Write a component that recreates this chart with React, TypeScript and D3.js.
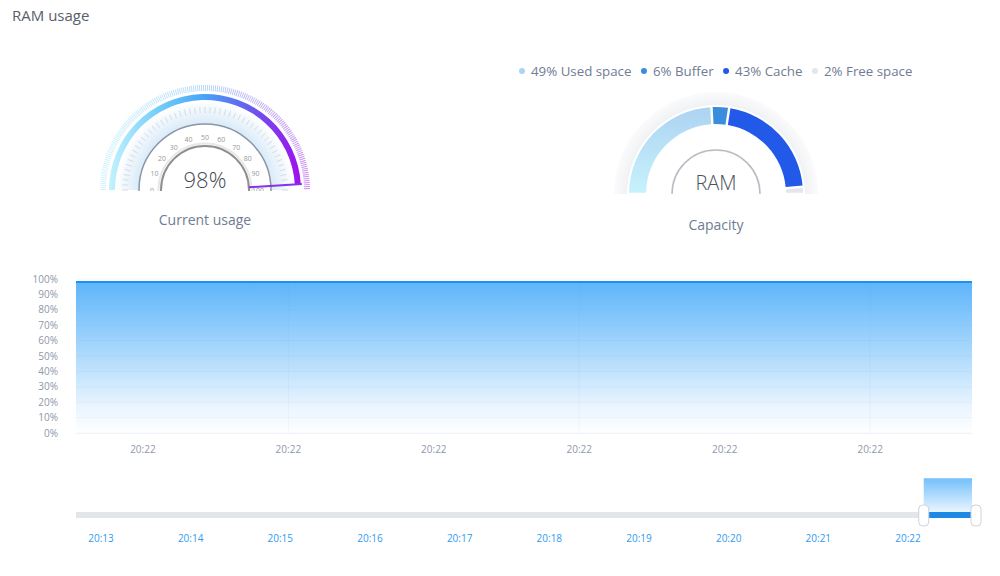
import React from "react";
import * as d3 from "d3";

// ---------- DATA ----------
const currentUsage = 98;
const gaugeTickLabels = [0, 10, 20, 30, 40, 50, 60, 70, 80, 90, 100];
const capacityLabels = ["Used space", "Buffer", "Cache", "Free space"];
const capacityValues = [49, 6, 43, 2];
const capacityColors = ["#a9d5f2", "#3a8ddc", "#2359e8", "#e3e6eb"];
const yTickValues = [0, 10, 20, 30, 40, 50, 60, 70, 80, 90, 100];
// seconds after 20:22:00
const sampleSeconds = [7, 8, 9, 10, 11, 12, 13, 14, 15, 16, 17, 18, 19, 20, 21, 22, 23, 24, 25, 26, 27, 28, 29, 30, 31, 32, 33, 34, 35, 36, 37, 38, 39, 40, 41, 42, 43];
const usageValues = [98, 98, 98, 98, 98, 98, 98, 98, 98, 98, 98, 98, 98, 98, 98, 98, 98, 98, 98, 98, 98, 98, 98, 98, 98, 98, 98, 98, 98, 98, 98, 98, 98, 98, 98, 98, 98];

const W = 1000;
const H = 576;
const FONT = "'Open Sans', 'Noto Sans', sans-serif";

const t = (h: number, m: number, s: number) => new Date(2024, 0, 1, h, m, Math.floor(s), Math.round((s % 1) * 1000));
const mainStart = t(20, 22, 7.7);
const mainEnd = t(20, 22, 38.5);
const navStart = t(20, 12, 43.3);
const navEnd = t(20, 22, 42.8);
const selStart = t(20, 22, 10.5);

const series = sampleSeconds.map((s, i) => ({ date: t(20, 22, s), value: usageValues[i] }));

function measure(text: string, font: string) {
  const c = document.createElement("canvas").getContext("2d");
  if (!c) return text.length * 7;
  c.font = font;
  return c.measureText(text).width;
}

function UsageGauge() {
  const cx = 205, cy = 190;
  const ang = d3.scaleLinear().domain([0, 100]).range([-Math.PI / 2, Math.PI / 2]);
  const arc = d3.arc<any>();
  const solid = arc({ innerRadius: 90, outerRadius: 96, startAngle: ang(0), endAngle: ang(currentUsage) }) as string;
  const band = arc({ innerRadius: 66, outerRadius: 89, startAngle: ang(0), endAngle: ang(100) }) as string;
  const minorTicks = d3.range(0, 100.01, 2);
  const pt = (v: number, r: number) => {
    const a = ang(v);
    return [cx + r * Math.sin(a), cy - r * Math.cos(a)];
  };
  const [n1x, n1y] = pt(currentUsage, 44);
  const [n2x, n2y] = pt(currentUsage, 97);
  const hatchPath = (() => {
    const p = d3.path();
    p.arc(cx, cy, 102, Math.PI, 2 * Math.PI);
    return p.toString();
  })();
  return (
    <g>
      <defs>
        <linearGradient id="solidGrad" gradientUnits="userSpaceOnUse" x1={-96} y1={0} x2={96} y2={0}>
          <stop offset="0" stopColor="#c4f2fc" />
          <stop offset="0.25" stopColor="#74cefb" />
          <stop offset="0.5" stopColor="#47a3f7" />
          <stop offset="0.75" stopColor="#6a56ef" />
          <stop offset="1" stopColor="#a00eee" />
        </linearGradient>
        <linearGradient id="hatchGrad" gradientUnits="userSpaceOnUse" x1={cx - 105} y1={0} x2={cx + 105} y2={0}>
          <stop offset="0" stopColor="#d3f4fc" />
          <stop offset="0.5" stopColor="#b6dafa" />
          <stop offset="1" stopColor="#cc8cf2" />
        </linearGradient>
        <radialGradient id="bandGrad" gradientUnits="userSpaceOnUse" cx={0} cy={0} r={89}>
          <stop offset="0.74" stopColor="#d9eaf8" />
          <stop offset="1" stopColor="#ffffff" />
        </radialGradient>
        <clipPath id="g1clip">
          <rect x={cx - 120} y={cy - 120} width={240} height={121} />
        </clipPath>
      </defs>
      <g clipPath="url(#g1clip)">
        <path d={hatchPath} fill="none" stroke="url(#hatchGrad)" strokeWidth={6} strokeDasharray="1 1" />
        <path d={band} transform={`translate(${cx},${cy})`} fill="url(#bandGrad)" />
        {minorTicks.map((v) => {
          const [x1, y1] = pt(v, 77);
          const [x2, y2] = pt(v, 83);
          return <line key={v} x1={x1} y1={y1} x2={x2} y2={y2} stroke="#d3dce6" strokeWidth={1} />;
        })}
        <path d={solid} transform={`translate(${cx},${cy})`} fill="url(#solidGrad)" />
        <circle cx={cx} cy={cy} r={66} fill="#fff" stroke="#8a95a6" strokeWidth={1.5} />
        <circle cx={cx} cy={cy} r={46.5} fill="none" stroke="#e8e8e8" strokeWidth={2} />
        <circle cx={cx} cy={cy} r={44} fill="#fff" stroke="#8f8f8f" strokeWidth={2} />
        {gaugeTickLabels.map((v) => {
          const [x, y] = pt(v, 53);
          return (
            <text key={v} x={x} y={y + 2.5} textAnchor="middle" fontSize={7} fill="#999999" fontFamily={FONT}>
              {v}
            </text>
          );
        })}
        <line x1={n1x} y1={n1y} x2={n2x} y2={n2y} stroke="#8533e6" strokeWidth={2} />
      </g>
      <text x={cx} y={188} textAnchor="middle" fontSize={22} fill="#454b55" fontFamily={FONT} fontWeight={300}>
        {currentUsage}%
      </text>
      <text x={cx} y={225} textAnchor="middle" fontSize={14} fill="#6f7c93" fontFamily={FONT}>
        Current usage
      </text>
    </g>
  );
}

function CapacityGauge() {
  const cx = 716, cy = 194;
  const total = d3.sum(capacityValues);
  const pie = d3
    .pie<number>()
    .sort(null)
    .value((d) => d)
    .startAngle(-Math.PI / 2)
    .endAngle(Math.PI / 2)
    .padAngle(0.022);
  const arcs = pie(capacityValues);
  const arc = d3.arc<any>().innerRadius(70).outerRadius(87);
  const ring = d3.arc<any>()({ innerRadius: 87, outerRadius: 102, startAngle: -Math.PI / 2, endAngle: Math.PI / 2 }) as string;
  const legendFont = `13.3px ${FONT}`;
  let lx = 522;
  const legend = capacityLabels.map((l, i) => {
    const label = `${Math.round((capacityValues[i] / total) * 100)}% ${l}`;
    const item = { x: lx, label, color: capacityColors[i] };
    lx += 9 + measure(label, legendFont) + 12.5;
    return item;
  });
  return (
    <g>
      <defs>
        <linearGradient id="usedGrad" gradientUnits="userSpaceOnUse" x1={0} y1={0} x2={0} y2={-87}>
          <stop offset="0" stopColor="#c8f2fd" />
          <stop offset="1" stopColor="#acd3f1" />
        </linearGradient>
        <radialGradient id="ringGrad" gradientUnits="userSpaceOnUse" cx={0} cy={0} r={102}>
          <stop offset="0.85" stopColor="#eef0f3" />
          <stop offset="1" stopColor="#fbfbfc" />
        </radialGradient>
        <clipPath id="g2clip">
          <rect x={cx - 120} y={cy - 120} width={240} height={120} />
        </clipPath>
      </defs>
      {legend.map((d) => (
        <g key={d.label}>
          <circle cx={d.x} cy={71} r={3} fill={d.color} />
          <text x={d.x + 9} y={76} fontSize={13.3} fill="#6f7c93" fontFamily={FONT}>
            {d.label}
          </text>
        </g>
      ))}
      <g clipPath="url(#g2clip)">
        <path d={ring} transform={`translate(${cx},${cy})`} fill="url(#ringGrad)" />
        <path
          d={d3.arc<any>()({ innerRadius: 68, outerRadius: 89, startAngle: -Math.PI / 2, endAngle: Math.PI / 2 }) as string}
          transform={`translate(${cx},${cy})`}
          fill="#ffffff"
        />
        {arcs.map((a, i) => (
          <path
            key={i}
            d={arc(a) as string}
            transform={`translate(${cx},${cy})`}
            fill={i === 0 ? "url(#usedGrad)" : capacityColors[i]}
          />
        ))}
        <circle cx={cx} cy={cy} r={44} fill="#fff" stroke="#b9bcc2" strokeWidth={1.5} />
      </g>
      <text x={cx} y={190} textAnchor="middle" fontSize={20} fill="#4b525c" fontFamily={FONT} fontWeight={300}>
        RAM
      </text>
      <text x={cx} y={230} textAnchor="middle" fontSize={14} fill="#6f7c93" fontFamily={FONT}>
        Capacity
      </text>
    </g>
  );
}

function AreaChart() {
  const x0 = 76, x1 = 972, yTop = 279, yBot = 433;
  const x = d3.scaleTime().domain([mainStart, mainEnd]).range([x0, x1]);
  const y = d3.scaleLinear().domain([0, 100]).range([yBot, yTop]);
  const area = d3
    .area<{ date: Date; value: number }>()
    .x((d) => x(d.date))
    .y0(yBot)
    .y1((d) => y(d.value));
  const line = d3
    .line<{ date: Date; value: number }>()
    .x((d) => x(d.date))
    .y((d) => y(d.value));
  const xTicks = x.ticks(d3.timeSecond.every(5) as any);
  const fmt = d3.timeFormat("%H:%M");

  // navigator
  const nx = d3.scaleTime().domain([navStart, navEnd]).range([x0, x1]);
  const ny = d3.scaleLinear().domain([0, 100]).range([518, 477.5]);
  const navTicks = nx.ticks(d3.timeMinute.every(1) as any);
  const navArea = d3
    .area<{ date: Date; value: number }>()
    .x((d) => nx(d.date))
    .y0(518)
    .y1((d) => ny(d.value));
  const selL = nx(selStart);
  const selR = nx(navEnd);

  return (
    <g>
      <defs>
        <linearGradient id="areaGrad" x1="0" y1="0" x2="0" y2="1">
          <stop offset="0" stopColor="#5db5fb" />
          <stop offset="0.45" stopColor="#a8d7fc" />
          <stop offset="0.8" stopColor="#e6f3fe" />
          <stop offset="1" stopColor="#ffffff" />
        </linearGradient>
        <linearGradient id="navGrad" x1="0" y1="0" x2="0" y2="1">
          <stop offset="0" stopColor="#73c0fb" />
          <stop offset="1" stopColor="#ffffff" />
        </linearGradient>
        <clipPath id="plotClip">
          <rect x={x0} y={yTop - 5} width={x1 - x0} height={yBot - yTop + 5} />
        </clipPath>
        <clipPath id="navClip">
          <rect x={selL} y={470} width={x1 - selL} height={50} />
        </clipPath>
      </defs>
      <g clipPath="url(#plotClip)">
        <path d={area(series) as string} fill="url(#areaGrad)" />
        {yTickValues.map((v) => (
          <line key={v} x1={x0} x2={x1} y1={y(v)} y2={y(v)} stroke="#6d9cc4" strokeOpacity={0.07} strokeWidth={1} />
        ))}
        {xTicks
          .filter((_, i) => i % 2 === 1)
          .map((d, i) => (
            <line key={i} x1={x(d)} x2={x(d)} y1={yTop} y2={yBot} stroke="#6d9cc4" strokeOpacity={0.07} />
          ))}
        <path d={line(series) as string} fill="none" stroke="#1f8ff0" strokeWidth={2} />
      </g>
      <line x1={x0} x2={x1} y1={yBot + 0.5} y2={yBot + 0.5} stroke="#f0f2f5" />
      {yTickValues.map((v) => (
        <text key={v} x={58} y={y(v) + 3.5} textAnchor="end" fontSize={10} fill="#8e98aa" fontFamily={FONT}>
          {v}%
        </text>
      ))}
      {xTicks.map((d, i) => (
        <text key={i} x={x(d)} y={453} textAnchor="middle" fontSize={10} fill="#8e98aa" fontFamily={FONT}>
          {fmt(d)}
        </text>
      ))}

      {/* navigator */}
      <rect x={x0} y={512} width={x1 - x0} height={6} fill="#e2e6eb" />
      <g clipPath="url(#navClip)">
        <path d={navArea(series) as string} fill="url(#navGrad)" />
      </g>
      <rect x={selL} y={512} width={selR - selL} height={6} fill="#1e88e5" />
      <rect x={selL - 5} y={505} width={10} height={21} rx={4} fill="#ffffff" stroke="#cfd3d8" />
      <rect x={selR - 1} y={505} width={10} height={21} rx={4} fill="#ffffff" stroke="#cfd3d8" />
      {navTicks.map((d, i) => (
        <text key={i} x={nx(d)} y={542} textAnchor="middle" fontSize={10} fill="#2f9bef" fontFamily={FONT}>
          {fmt(d)}
        </text>
      ))}
    </g>
  );
}

export default function App() {
  return (
    <svg width={W} height={H} style={{ position: "absolute", left: 0, top: 0, background: "#fff" }}>
      <text x={12} y={21} fontSize={15} fill="#59606b" fontFamily={FONT}>
        RAM usage
      </text>
      <UsageGauge />
      <CapacityGauge />
      <AreaChart />
    </svg>
  );
}
